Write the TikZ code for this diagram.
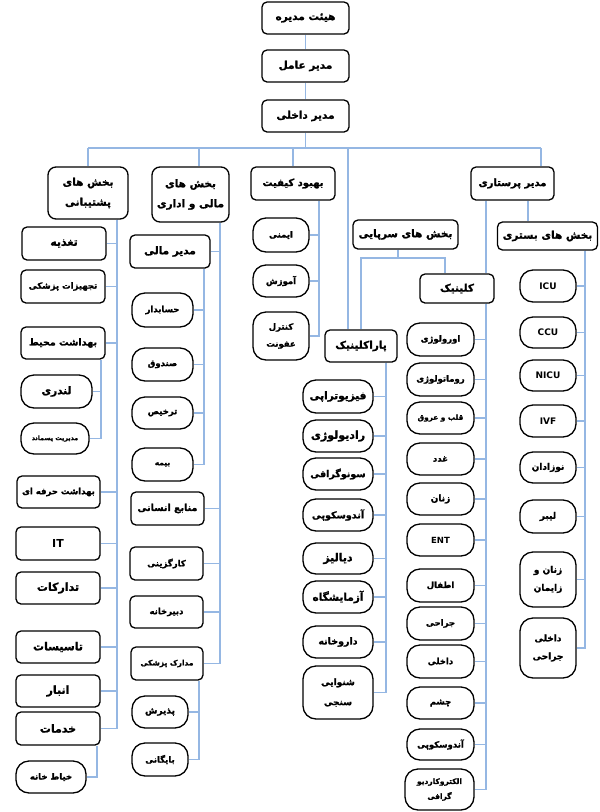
\documentclass[tikz,border=0pt]{standalone}
\usepackage{fontspec}
\setmainfont{DejaVu Sans}
\newfontfamily\arabicfont[Script=Arabic, BoldFeatures={FakeBold=1.5}]{DejaVu Sans}
\TeXXeTstate=1
\usetikzlibrary{backgrounds}
\definecolor{lineblue}{RGB}{149,183,227}
\newcommand{\fa}[1]{{\arabicfont\bfseries\beginR #1\endR}}
\newcommand{\fs}[2]{\fontsize{#1}{#2}\selectfont}
\begin{document}
\begin{tikzpicture}[x=1pt,y=-1pt,
  box/.style={draw=black, line width=1.3pt, rounded corners=5pt, fill=white, inner sep=1pt, align=center, font=\fs{10.5}{13}},
  pill/.style={box, rounded corners=13pt},
  ln/.style={draw=lineblue, line width=1.2pt}]
\useasboundingbox (0,0) rectangle (600,812);

% ---------- top column ----------
\node[box, minimum width=87, minimum height=32] (heyat) at (305.5,18) {\fa{هیئت مدیره}};
\node[box, minimum width=87, minimum height=32] (amel) at (305.5,66) {\fa{مدیر عامل}};
\node[box, minimum width=87, minimum height=32] (dakhli) at (305.5,116) {\fa{مدیر داخلی}};

% ---------- level 2 ----------
\node[box, rounded corners=8pt, minimum width=80, minimum height=52, font=\fs{10.5}{20}] (posht) at (88,193) {\fa{بخش های}\\\fa{پشتیبانی}};
\node[box, rounded corners=8pt, minimum width=77, minimum height=55, font=\fs{10.5}{20}] (maliadari) at (190.5,194.5) {\fa{بخش های}\\\fa{مالی و اداری}};
\node[box, minimum width=84, minimum height=33, font=\fs{10}{12}] (behbood) at (293,183.5) {\fa{بهبود کیفیت}};
\node[box, minimum width=83, minimum height=33, font=\fs{10}{12}] (parastari) at (512.5,183.5) {\fa{مدیر پرستاری}};
\node[box, minimum width=105, minimum height=29] (sarpaei) at (405.5,234.5) {\fa{بخش های سرپایی}};
\node[box, minimum width=100, minimum height=28] (bastari) at (547.5,236) {\fa{بخش های بستری}};
\node[box, minimum width=74, minimum height=29] (kelinik) at (457,288.5) {\fa{کلینیک}};
\node[box, minimum width=72, minimum height=32] (parak) at (361,346) {\fa{پاراکلینیک}};

% ---------- support column ----------
\node[box, minimum width=84, minimum height=33, font=\fs{11}{13}] (taghzie) at (64,243.5) {\fa{تغذیه}};
\node[box, minimum width=84, minimum height=33, font=\fs{8.5}{11}] (tajhizat) at (63,286.5) {\fa{تجهیزات پزشکی}};
\node[box, minimum width=84, minimum height=32, font=\fs{9.5}{11}] (behmohit) at (63,343) {\fa{بهداشت محیط}};
\node[pill, minimum width=71, minimum height=33] (landri) at (56.5,391.5) {\fa{لندری}};
\node[pill, minimum width=68, minimum height=31, font=\fs{6.3}{8}] (pasmand) at (55,438.5) {\fa{مدیریت پسماند}};
\node[box, minimum width=83, minimum height=32, font=\fs{8.5}{11}] (hirfei) at (58.5,492) {\fa{بهداشت حرفه ای}};
\node[box, minimum width=84, minimum height=33, font=\bfseries\fs{11}{12}] (it) at (58,543.5) {IT};
\node[box, minimum width=84, minimum height=32, font=\fs{11}{13}] (tadarokat) at (58,588) {\fa{تدارکات}};
\node[box, minimum width=84, minimum height=32, font=\fs{11}{13}] (tasisat) at (58,647) {\fa{تاسیسات}};
\node[box, minimum width=84, minimum height=32, font=\fs{11}{13}] (anbar) at (58,691) {\fa{انبار}};
\node[box, minimum width=84, minimum height=33, font=\fs{11}{13}] (khadamat) at (58,728.5) {\fa{خدمات}};
\node[pill, minimum width=70, minimum height=32, font=\fs{8.5}{10}] (khayat) at (51,777) {\fa{خیاط خانه}};

% ---------- finance column ----------
\node[box, minimum width=80, minimum height=33] (modirmali) at (170,251.5) {\fa{مدیر مالی}};
\node[pill, minimum width=61, minimum height=34, font=\fs{8.5}{10}] (hesabdar) at (162.5,310) {\fa{حسابدار}};
\node[pill, minimum width=61, minimum height=33, font=\fs{8.5}{10}] (sandogh) at (162.5,364.5) {\fa{صندوق}};
\node[pill, minimum width=61, minimum height=32, font=\fs{8.5}{10}] (tarkhis) at (162.5,413) {\fa{ترخیص}};
\node[pill, minimum width=61, minimum height=33, font=\fs{7.5}{9}] (bime) at (162.5,464.5) {\fa{بیمه}};
\node[box, minimum width=73, minimum height=33, font=\fs{9.5}{11}] (manabe) at (167.5,508.5) {\fa{منابع انسانی}};
\node[box, minimum width=73, minimum height=33, font=\fs{8.5}{10}] (kargozini) at (166.5,563.5) {\fa{کارگزینی}};
\node[box, minimum width=73, minimum height=32, font=\fs{8.5}{10}] (dabir) at (166.5,612) {\fa{دبیرخانه}};
\node[box, minimum width=72, minimum height=33, font=\fs{7.5}{9}] (madarek) at (167,663.5) {\fa{مدارک پزشکی}};
\node[pill, minimum width=56, minimum height=32, font=\fs{9}{10}] (paziresh) at (160,712) {\fa{پذیرش}};
\node[pill, minimum width=56, minimum height=33, font=\fs{8.5}{10}] (baygani) at (160,759.5) {\fa{بایگانی}};

% ---------- quality column ----------
\node[pill, minimum width=56, minimum height=34, font=\fs{8.5}{10}] (imeni) at (281,235) {\fa{ایمنی}};
\node[pill, minimum width=56, minimum height=32, font=\fs{8.5}{10}] (amoozesh) at (281,281) {\fa{آموزش}};
\node[pill, minimum width=56, minimum height=48, font=\fs{8.5}{17}] (kontrol) at (281,336) {\fa{کنترل}\\\fa{عفونت}};

% ---------- paraclinic column ----------
\node[pill, minimum width=70, minimum height=33] (fizio) at (338,396.5) {\fa{فیزیوتراپی}};
\node[pill, minimum width=70, minimum height=32, font=\fs{11}{13}] (radio) at (338,436) {\fa{رادیولوژی}};
\node[pill, minimum width=70, minimum height=32, font=\fs{9.5}{11}] (sono) at (338,474) {\fa{سونوگرافی}};
\node[pill, minimum width=70, minimum height=32, font=\fs{9.5}{11}] (andos) at (338,515) {\fa{آندوسکوپی}};
\node[pill, minimum width=70, minimum height=31, font=\fs{11}{13}] (dializ) at (338,558.5) {\fa{دیالیز}};
\node[pill, minimum width=70, minimum height=32] (azmayesh) at (338,597) {\fa{آزمایشگاه}};
\node[pill, minimum width=70, minimum height=32, font=\fs{9.5}{11}] (daroo) at (338,642) {\fa{داروخانه}};
\node[pill, minimum width=70, minimum height=53, font=\fs{9}{20}] (shenavaei) at (338,692.5) {\fa{شنوایی}\\\fa{سنجی}};

% ---------- clinic column ----------
\node[pill, minimum width=67, minimum height=33, font=\fs{8.5}{10}] (urology) at (440.5,339.5) {\fa{اورولوژی}};
\node[pill, minimum width=67, minimum height=33, font=\fs{8.5}{10}] (romato) at (440.5,379.5) {\fa{روماتولوژی}};
\node[pill, minimum width=67, minimum height=32, font=\fs{7.3}{9}] (ghalb) at (440.5,418) {\fa{قلب و عروق}};
\node[pill, minimum width=67, minimum height=32, font=\fs{8.5}{10}] (ghodad) at (440.5,459) {\fa{غدد}};
\node[pill, minimum width=67, minimum height=32, font=\fs{9}{10}] (zanan) at (440.5,499) {\fa{زنان}};
\node[pill, minimum width=67, minimum height=32, font=\bfseries\fs{8.5}{10}] (ent) at (440.5,540) {ENT};
\node[pill, minimum width=67, minimum height=33, font=\fs{8.5}{10}] (atfal) at (440.5,585.5) {\fa{اطفال}};
\node[pill, minimum width=67, minimum height=33, font=\fs{8.5}{10}] (jarahi) at (440.5,623.5) {\fa{جراحی}};
\node[pill, minimum width=67, minimum height=33, font=\fs{8.5}{10}] (dakheli) at (440.5,661.5) {\fa{داخلی}};
\node[pill, minimum width=67, minimum height=32, font=\fs{8.5}{10}] (cheshm) at (440.5,703) {\fa{چشم}};
\node[pill, minimum width=67, minimum height=31, font=\fs{8.5}{10}] (andos2) at (440.5,744.5) {\fa{آندوسکوپی}};
\node[pill, minimum width=69, minimum height=41, font=\fs{7.5}{15}] (electro) at (439.5,789.5) {\fa{الکتروکاردیو}\\\fa{گرافی}};

% ---------- inpatient column ----------
\node[pill, minimum width=56, minimum height=32, font=\bfseries\fs{9}{10}] (icu) at (548,286) {ICU};
\node[pill, minimum width=56, minimum height=31, font=\bfseries\fs{9}{10}] (ccu) at (548,332.5) {CCU};
\node[pill, minimum width=56, minimum height=31, font=\bfseries\fs{9}{10}] (nicu) at (548,375.5) {NICU};
\node[pill, minimum width=56, minimum height=32, font=\bfseries\fs{9}{10}] (ivf) at (548,421) {IVF};
\node[pill, minimum width=56, minimum height=31, font=\fs{9}{10}] (nozadan) at (548,467.5) {\fa{نوزادان}};
\node[pill, minimum width=56, minimum height=33, font=\fs{9}{10}] (leiber) at (548,516.5) {\fa{لیبر}};
\node[pill, minimum width=56, minimum height=55, font=\fs{9}{18}] (zanzay) at (548,579.5) {\fa{زنان و}\\\fa{زایمان}};
\node[pill, minimum width=56, minimum height=60, font=\fs{9}{18}] (dakjar) at (548,648) {\fa{داخلی}\\\fa{جراحی}};

% ---------- spine coordinates ----------
\coordinate (bus) at (305.5,148);
\coordinate (xposht) at (117,0);
\coordinate (xmohit) at (101,0);
\coordinate (xkhad) at (97,0);
\coordinate (xmali) at (220,0);
\coordinate (xmodir) at (204,0);
\coordinate (xmadarek) at (199,0);
\coordinate (xbeh) at (319,0);
\coordinate (xpar) at (386,0);
\coordinate (xkel) at (486,0);
\coordinate (xbas) at (585,0);
\coordinate (dmali) at (199,0);
\coordinate (dpar) at (348,0);
\coordinate (dpara) at (541,0);
\coordinate (dbas) at (528,0);
\coordinate (sb) at (398,258);
\coordinate (dkel) at (445,0);

\begin{scope}[on background layer]
\fill[white] (0,0) rectangle (600,812);
% top chain
\draw[ln] (heyat) -- (amel);
\draw[ln] (amel) -- (dakhli);
\draw[ln] (dakhli.south) -- (bus);
\draw[ln] (posht.north |- bus) -- (dpara |- bus);
\draw[ln] (posht.north |- bus) -- (posht.north);
\draw[ln] (dmali |- bus) -- (dmali |- maliadari.north);
\draw[ln] (behbood.north |- bus) -- (behbood.north);
\draw[ln] (dpar |- bus) -- (dpar |- parak.north);
\draw[ln] (dpara |- bus) -- (dpara |- parastari.north);
% nursing
\draw[ln] (parastari.south -| dbas) -- (bastari.north -| dbas);
\draw[ln] (parastari.south -| xkel) -- (kelinik.north -| xkel);
% outpatient bracket
\draw[ln] (sarpaei.south -| sb) -- (sb);
\draw[ln] (sb) -| (parak.north);
\draw[ln] (sb) -| (kelinik.north -| dkel);
% support
\foreach \c in {taghzie,tajhizat,behmohit,hirfei,it,tadarokat,tasisat,anbar,khadamat}
  \draw[ln] (posht.south -| xposht) |- (\c.east);
\foreach \c in {landri,pasmand}
  \draw[ln] (behmohit.south -| xmohit) |- (\c.east);
\draw[ln] (khadamat.south -| xkhad) |- (khayat.east);
% finance
\foreach \c in {modirmali,manabe,kargozini,dabir,madarek}
  \draw[ln] (maliadari.south -| xmali) |- (\c.east);
\foreach \c in {hesabdar,sandogh,tarkhis,bime}
  \draw[ln] (modirmali.south -| xmodir) |- (\c.east);
\foreach \c in {paziresh,baygani}
  \draw[ln] (madarek.south -| xmadarek) |- (\c.east);
% quality
\foreach \c in {imeni,amoozesh,kontrol}
  \draw[ln] (behbood.south -| xbeh) |- (\c.east);
% paraclinic
\foreach \c in {fizio,radio,sono,andos,dializ,azmayesh,daroo,shenavaei}
  \draw[ln] (parak.south -| xpar) |- (\c.east);
% clinic
\foreach \c in {urology,romato,ghalb,ghodad,zanan,ent,atfal,jarahi,dakheli,cheshm,andos2,electro}
  \draw[ln] (kelinik.south -| xkel) |- (\c.east);
% inpatient
\foreach \c in {icu,ccu,nicu,ivf,nozadan,leiber,zanzay,dakjar}
  \draw[ln] (bastari.south -| xbas) |- (\c.east);
\end{scope}
\end{tikzpicture}
\end{document}
